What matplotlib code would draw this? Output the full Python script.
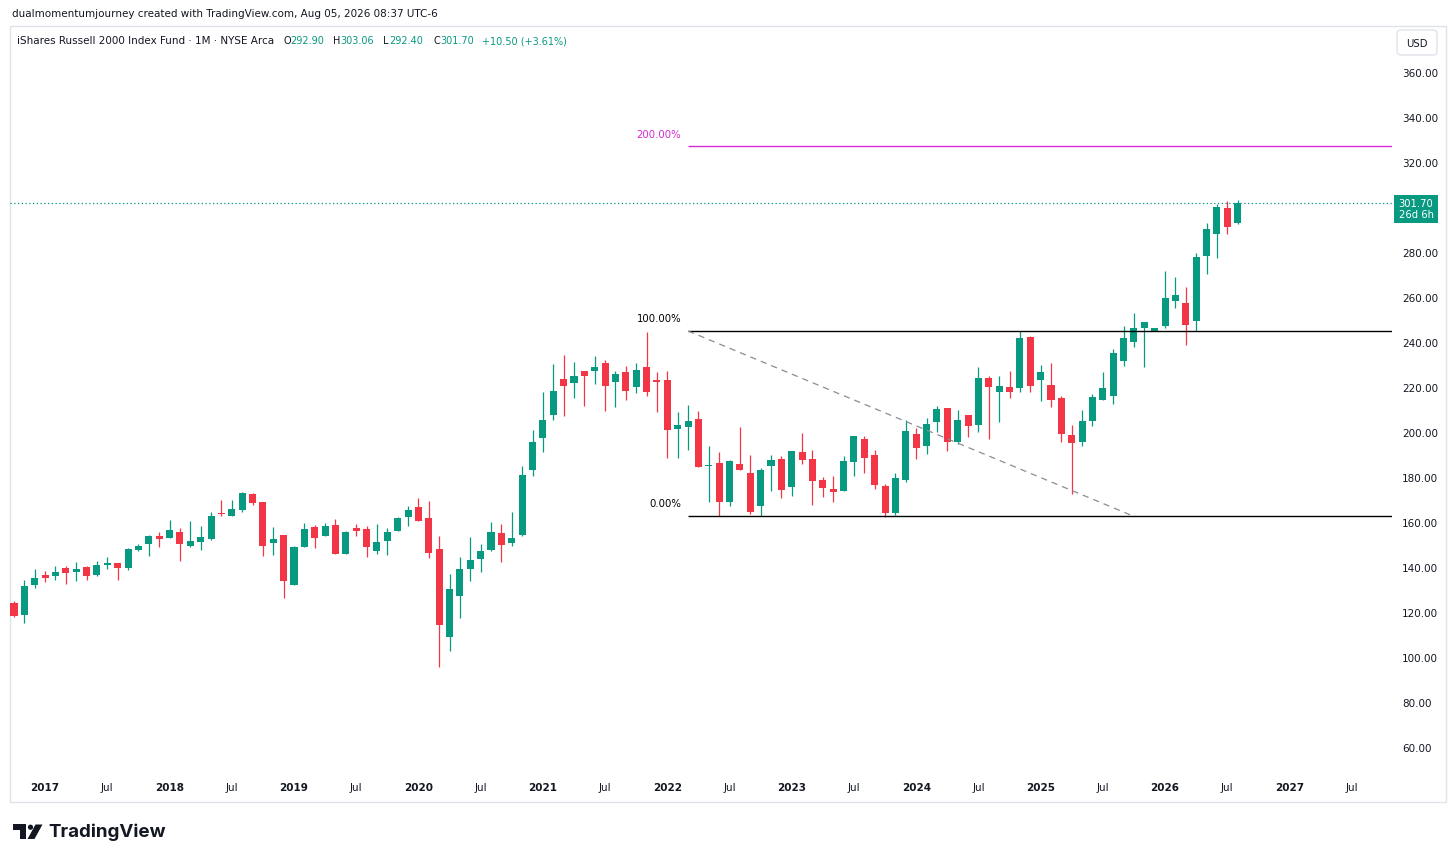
import numpy as np
import matplotlib.pyplot as plt
from matplotlib.patches import Rectangle, FancyBboxPatch, Polygon, Circle
import matplotlib.transforms as mtransforms

# monthly candles, Oct 2016 .. Aug 2026
opens = [123.9, 118.7, 132.2,
         136.3, 136.2, 139.7, 137.9, 139.9, 136.6, 141.0, 141.9, 139.6, 147.7, 150.1, 153.8,
         153.1, 155.7, 149.3, 151.3, 152.4, 164.2, 162.5, 165.5, 172.6, 169.0, 150.5, 154.2,
         132.0, 149.0, 157.6, 153.9, 158.7, 145.6, 157.3, 156.9, 147.0, 151.7, 156.1, 162.1,
         166.5, 161.6, 148.0, 108.7, 127.0, 139.1, 143.6, 147.7, 154.9, 150.5, 154.4, 183.3,
         197.3, 207.6, 223.4, 221.8, 226.9, 227.0, 230.7, 222.4, 226.8, 219.9, 228.9, 223.1,
         223.3, 201.3, 202.2, 205.8, 185.1, 186.1, 169.0, 185.6, 181.8, 167.3, 185.0, 188.0,
         175.4, 190.9, 188.0, 178.7, 174.7, 173.6, 186.5, 196.9, 189.9, 175.8, 164.0, 178.8,
         199.1, 193.9, 204.3, 210.5, 195.7, 207.6, 203.1, 223.8, 217.9, 219.9, 219.4, 242.1,
         223.1, 221.0, 215.1, 198.7, 195.7, 205.0, 214.4, 215.9, 231.4, 240.1, 246.1, 245.0,
         247.3, 258.4, 257.3, 249.5, 278.4, 288.0, 299.6, 292.90]
highs = [124.7, 134.2, 139.1,
         138.1, 140.3, 140.6, 142.1, 140.3, 142.8, 144.3, 141.9, 148.5, 150.4, 154.4, 155.4,
         160.9, 157.2, 160.6, 158.2, 164.5, 169.9, 169.9, 173.3, 172.9, 169.0, 157.8, 154.2,
         149.5, 159.7, 158.7, 159.6, 161.3, 156.0, 159.1, 158.4, 159.1, 157.2, 162.1, 167.0,
         170.5, 169.3, 153.9, 136.9, 144.6, 153.2, 150.2, 159.8, 159.1, 164.3, 185.0, 201.0,
         217.9, 230.1, 234.4, 231.0, 226.9, 233.6, 231.9, 227.3, 229.5, 230.5, 244.4, 226.5,
         227.0, 209.0, 212.0, 209.2, 193.6, 191.0, 187.5, 202.1, 189.8, 184.0, 189.8, 189.2,
         191.4, 199.6, 192.1, 179.8, 180.6, 189.2, 198.4, 198.1, 192.1, 176.9, 181.8, 205.5,
         201.6, 206.1, 211.4, 210.5, 209.8, 207.6, 228.7, 224.7, 224.7, 227.0, 244.7, 242.5,
         229.9, 230.7, 215.9, 203.1, 209.8, 216.9, 226.8, 236.9, 247.3, 252.9, 248.7, 246.1,
         271.7, 269.0, 264.3, 279.6, 292.7, 301.3, 302.5, 303.06]
lows = [117.9, 115.1, 130.5,
        133.5, 134.2, 132.5, 133.6, 134.2, 136.2, 139.1, 134.2, 138.7, 147.3, 144.7, 148.7,
        152.8, 142.5, 148.9, 147.4, 151.9, 162.5, 162.5, 164.6, 167.6, 144.7, 145.3, 126.1,
        132.0, 148.7, 148.6, 153.6, 145.6, 145.6, 153.6, 144.3, 145.8, 145.3, 156.1, 158.4,
        160.3, 143.8, 95.6, 102.8, 117.2, 133.6, 137.6, 147.3, 142.4, 149.2, 153.9, 180.6,
        191.3, 205.5, 207.3, 215.1, 211.7, 221.3, 209.2, 211.0, 214.4, 217.2, 216.1, 208.7,
        188.3, 188.3, 192.1, 184.6, 168.7, 162.8, 167.0, 183.3, 163.6, 162.8, 173.9, 170.6,
        171.7, 185.8, 167.7, 170.9, 169.0, 173.6, 180.6, 181.6, 174.7, 162.1, 163.3, 178.0,
        188.0, 190.2, 199.9, 191.7, 194.7, 197.6, 199.9, 196.9, 204.3, 215.0, 217.9, 217.9,
        213.9, 211.0, 195.7, 172.4, 193.9, 202.8, 214.4, 212.4, 229.5, 237.6, 228.7, 245.0,
        246.1, 255.1, 238.7, 245.0, 270.2, 277.3, 288.0, 292.40]
closes = [118.4, 131.4, 135.0,
          135.3, 137.9, 137.5, 139.0, 136.2, 141.0, 141.8, 139.6, 148.0, 149.2, 153.8, 152.5,
          156.3, 150.1, 151.6, 153.3, 162.7, 163.7, 165.6, 173.0, 168.4, 149.5, 152.4, 133.9,
          148.9, 156.9, 152.7, 158.2, 145.6, 155.7, 156.1, 148.7, 151.0, 155.4, 161.6, 165.5,
          160.3, 146.2, 114.2, 130.2, 139.1, 143.3, 147.3, 155.4, 149.8, 152.7, 180.9, 195.7,
          205.3, 218.2, 220.6, 224.7, 225.0, 229.0, 220.6, 225.6, 218.4, 227.7, 217.9, 222.4,
          200.9, 203.3, 204.9, 184.6, 185.4, 169.0, 187.1, 183.3, 164.3, 183.1, 187.5, 174.2,
          191.4, 187.7, 178.1, 175.1, 173.2, 187.0, 198.4, 188.3, 176.4, 164.0, 179.6, 200.6,
          192.7, 203.6, 210.2, 195.7, 205.3, 202.8, 223.8, 219.8, 220.6, 217.6, 241.8, 220.6,
          226.5, 214.4, 199.1, 195.0, 204.7, 215.4, 219.4, 235.1, 241.6, 246.1, 248.7, 246.1,
          259.4, 260.9, 247.7, 277.6, 290.2, 299.9, 291.2, 301.70]
first_month = 10  # Oct 2016

years = list(range(2017, 2028))
price_ticks = list(range(60, 361, 20))

# fib retracement anchors (index, price)
fib_a = (65.0, 244.9)
fib_b = (107.9, 162.7)
fib_levels = [0.0, 1.0, 2.0]
fib_labels = ["0.00%", "100.00%", "200.00%"]

UP = "#089981"
DOWN = "#f23645"
TXT = "#131722"
FIB_PINK = "#d42bd4"

W, H = 1456, 862
fig = plt.figure(figsize=(W / 100, H / 100), dpi=100)
fig.patch.set_facecolor("white")

# overlay in pixel coords for the frame / branding
ov = fig.add_axes([0, 0, 1, 1])
ov.set_xlim(0, W)
ov.set_ylim(H, 0)
ov.axis("off")


def px_rect(l, t, r, b):
    return [l / W, 1 - b / H, (r - l) / W, (b - t) / H]


ax = fig.add_axes(px_rect(10, 27, 1392, 775))
ax.set_facecolor("none")

n = len(opens)
xs = np.arange(n)
o = np.array(opens)
c = np.array(closes)
hi = np.array(highs)
lo = np.array(lows)
cols = [UP if cc >= oo else DOWN for oo, cc in zip(o, c)]

ax.vlines(xs, lo, hi, colors=cols, lw=0.9, zorder=2)
body_h = np.maximum(np.abs(c - o), 0.45)
ax.bar(xs, body_h, bottom=np.minimum(o, c), width=0.68, color=cols, zorder=3, linewidth=0)

# fib retracement
x_right = (1392 - 14) / 10.37
for lv, lab in zip(fib_levels, fib_labels):
    val = fib_b[1] + lv * (fib_a[1] - fib_b[1])
    colr = FIB_PINK if lv == 2.0 else "black"
    ax.hlines(val, fib_a[0], x_right, color=colr, lw=1.0, zorder=4)
    ax.annotate(lab, (fib_a[0], val), xytext=(-5, 9), textcoords="offset points",
                ha="right", va="center", fontsize=7.3, color=colr)
ax.plot([fib_a[0], fib_b[0]], [fib_a[1], fib_b[1]], color="#8a8d96", lw=0.9,
        ls=(0, (5, 4)), zorder=4)

# last price line + tag
last = closes[-1]
ax.axhline(last, color=UP, lw=0.9, ls=(0, (1, 2)), zorder=1)
bt = mtransforms.blended_transform_factory(ax.transAxes, ax.transData)
ax.add_patch(Rectangle(((1394 - 10) / 1382, last - 20 / 2.25), 44 / 1382, 28 / 2.25,
                       transform=bt, facecolor=UP, edgecolor="none", clip_on=False, zorder=5))
ax.text((1416 - 10) / 1382, last - 5.5 / 2.25, f"{last:.2f}\n26d 6h", transform=bt,
        ha="center", va="center", color="white", fontsize=7.2, linespacing=1.05, zorder=6)

ax.set_xlim((10 - 14) / 10.37, x_right)
ax.set_ylim(360 - (775 - 73) / 2.25, 360 + (73 - 27) / 2.25)

# the price tag hides the scale label it sits on
shown_ticks = [v for v in price_ticks if abs(v - last) > 8]
ax.yaxis.tick_right()
ax.set_yticks(shown_ticks)
ax.set_yticklabels([f"{v:.2f}" for v in shown_ticks])
ax.tick_params(axis="y", length=0, pad=7.2, labelsize=7.5, colors=TXT)

tick_pos, tick_lab = [], []
for k, yr in enumerate(years):
    jan = (12 - first_month + 1) + 12 * k
    tick_pos += [jan, jan + 6]
    tick_lab += [str(yr), "Jul"]
ax.set_xticks(tick_pos)
ax.set_xticklabels(tick_lab)
ax.tick_params(axis="x", length=0, pad=6, labelsize=7.5, colors=TXT)
for t in ax.get_xticklabels():
    if t.get_text() != "Jul":
        t.set_fontweight("bold")
for s in ax.spines.values():
    s.set_visible(False)

# frame and price-scale bits
ov.add_patch(Rectangle((10, 27), 1436, 776, facecolor="none", edgecolor="#e0e3eb", lw=1))
ov.add_patch(FancyBboxPatch((1397, 31), 40, 25, boxstyle="round,pad=0,rounding_size=4",
                            facecolor="white", edgecolor="#e0e3eb", lw=1))
ov.text(1417, 44, "USD", ha="center", va="center", fontsize=7.3, color=TXT)

# header
ov.text(12, 14, "dualmomentumjourney created with TradingView.com, Aug 05, 2026 08:37 UTC-6",
        ha="left", va="center", fontsize=7.5, color=TXT)
ov.text(17, 41, "iShares Russell 2000 Index Fund \u00b7 1M \u00b7 NYSE Arca", ha="left",
        va="center", fontsize=7.5, color=TXT)
pieces = [(283, "O", TXT), (290, f"{opens[-1]:.2f}", UP), (333, "H", TXT),
          (340, f"{highs[-1]:.2f}", UP), (383, "L", TXT), (389, f"{lows[-1]:.2f}", UP),
          (433, "C", TXT), (440, f"{closes[-1]:.2f}", UP)]
for px, s, colr in pieces:
    ov.text(px, 41, s, ha="left", va="center", fontsize=7.0, color=colr)
chg = closes[-1] - closes[-2]
ov.text(482, 41, f"+{chg:.2f} (+{chg / closes[-2] * 100:.2f}%)", ha="left", va="center",
        fontsize=7.0, color=UP)

# TradingView logo
ov.add_patch(Polygon([(12.5, 825.5), (26, 825.5), (26, 840), (20, 840), (20, 831), (12.5, 831)],
                     closed=True, facecolor=TXT, edgecolor="none"))
ov.add_patch(Circle((30.5, 828.2), 2.6, facecolor=TXT, edgecolor="none"))
ov.add_patch(Polygon([(35.5, 825.5), (42.5, 825.5), (34.5, 840), (27.5, 840)],
                     closed=True, facecolor=TXT, edgecolor="none"))
ov.text(48, 832, "TradingView", ha="left", va="center", fontsize=13.5, fontweight="bold",
        color=TXT, family="Inter")

fig.savefig("out.png", dpi=100)
